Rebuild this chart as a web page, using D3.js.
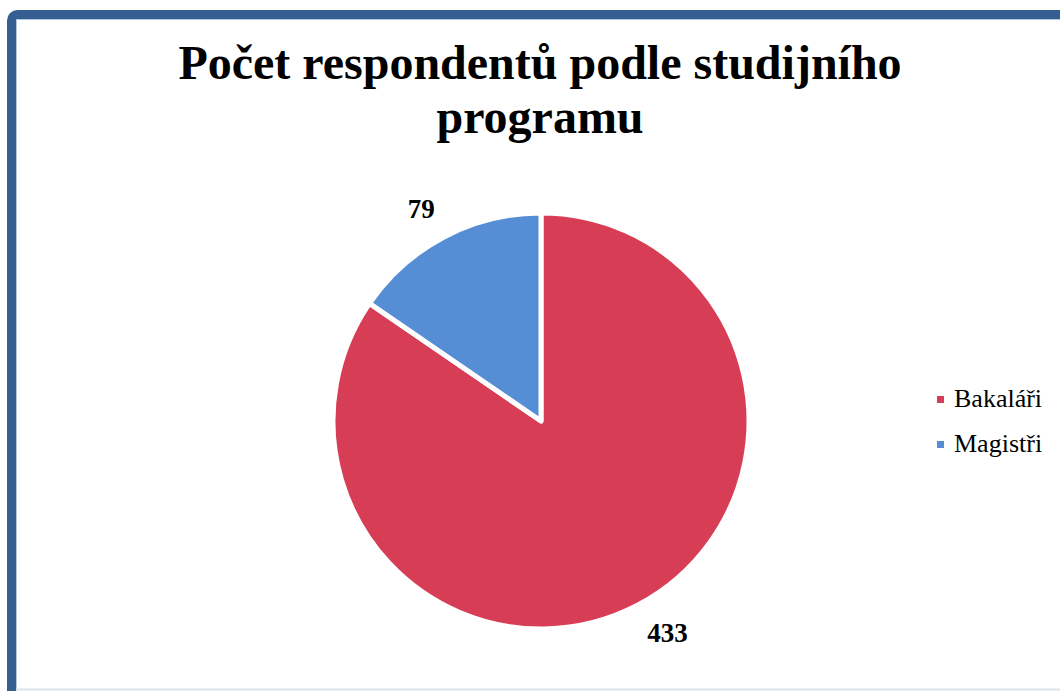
<!doctype html>
<html>
<head>
<meta charset="utf-8">
<style>
    body { margin: 0; background: #fff; }
    text { font-family: "Liberation Serif", "Times New Roman", serif; }
</style>
<script src="https://d3js.org/d3.v7.min.js"></script>
</head>
<body>
<svg width="1060" height="691"></svg>
<script>

    var categories = ["Bakaláři", "Magistři"]
    var values = [433, 79]
    var colors = ["#d73e55", "#558ed5"]
    var titleLines = ["Počet respondentů podle studijního", "programu"]

    var svg = d3.select("svg")

    // frame (only the top and left side are in view)
    svg.append("rect")
       .attr("x", 11.5).attr("y", 14.5)
       .attr("width", 1200).attr("height", 900)
       .attr("rx", 6)
       .attr("fill", "none")
       .attr("stroke", "#355f92")
       .attr("stroke-width", 9)
    svg.append("path")
       .attr("d", "M16.5,1060V19.5H1060")
       .attr("fill", "none")
       .attr("stroke", "#b4c5dc")
       .attr("stroke-width", 1)
    svg.append("line")
       .attr("x1", 16).attr("x2", 1060)
       .attr("y1", 689.5).attr("y2", 689.5)
       .attr("stroke", "#dbe2eb")
       .attr("stroke-width", 2)

    svg.selectAll(".title")
       .data(titleLines)
       .enter().append("text")
       .attr("class", "title")
       .attr("x", 540)
       .attr("y", function(d, i) { return 79 + i * 54 })
       .attr("text-anchor", "middle")
       .attr("font-size", "48px")
       .attr("font-weight", "bold")
       .text(function(d) { return d })

    var cx = 541, cy = 421, r = 208

    var pie = d3.pie().sort(null)
    var arcs = pie(values)
    var arc = d3.arc().innerRadius(0).outerRadius(r)

    var g = svg.append("g")
               .attr("transform", "translate(" + cx + "," + cy + ")")

    g.selectAll("path")
     .data(arcs)
     .enter().append("path")
     .attr("d", arc)
     .attr("fill", function(d, i) { return colors[i] })
     .attr("stroke", "#fff")
     .attr("stroke-width", 5)
     .attr("stroke-linejoin", "round")

    // value labels outside the slices, label box pushed away from the edge
    var labelArc = d3.arc().innerRadius(r + 20).outerRadius(r + 20)
    g.selectAll(".val")
     .data(arcs)
     .enter().append("text")
     .attr("class", "val")
     .attr("text-anchor", "middle")
     .attr("font-size", "27px")
     .attr("font-weight", "bold")
     .text(function(d) { return d.data })
     .attr("transform", function(d) {
         var p = labelArc.centroid(d)
         var w = this.getComputedTextLength()
         var x = p[0] + (p[0] < 0 ? -w / 2 : w / 2)
         var y = p[1] + (p[1] < 0 ? -10 : 10)
         return "translate(" + x + "," + (y + 9) + ")"
     })

    var legend = svg.selectAll(".leg")
                    .data(categories)
                    .enter().append("g")
                    .attr("class", "leg")
                    .attr("transform", function(d, i) { return "translate(937," + (407 + i * 45) + ")" })

    legend.append("rect")
          .attr("x", 0).attr("y", -11)
          .attr("width", 7).attr("height", 7)
          .attr("fill", function(d, i) { return colors[i] })

    legend.append("text")
          .attr("x", 17)
          .attr("font-size", "26px")
          .text(function(d) { return d })

</script>
</body>
</html>
